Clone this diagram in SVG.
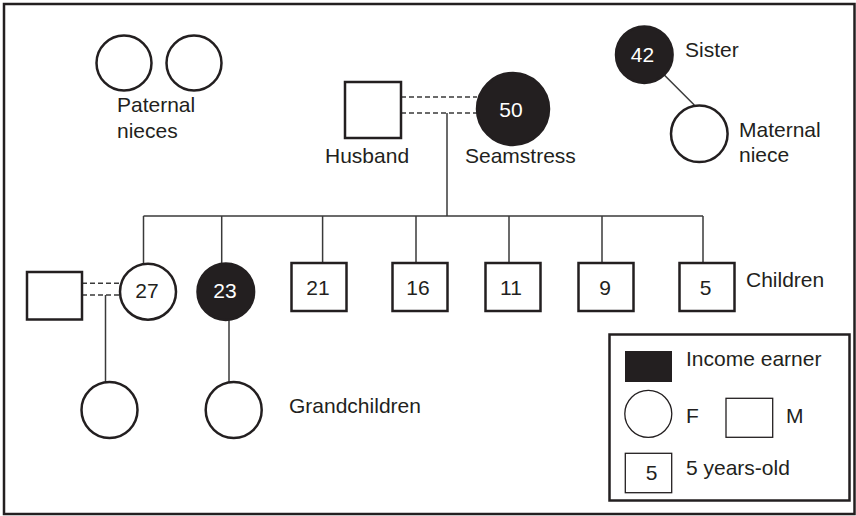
<svg xmlns="http://www.w3.org/2000/svg" width="856" height="516" viewBox="0 0 856 516">
  <style>
    text { font-family: "Liberation Sans", Arial, Helvetica, sans-serif; font-size: 21px; fill: #231f20; }
    .num { text-anchor: middle; }
    .inv { fill: #ffffff; }
    .node { fill: #ffffff; stroke: #231f20; stroke-width: 2.5; }
    .earner { fill: #231f20; stroke: #231f20; stroke-width: 2.5; }
    .thin { fill: #ffffff; stroke: #231f20; stroke-width: 1.3; }
    .link { fill: none; stroke: #3a3a3a; stroke-width: 1.5; }
    .union { fill: none; stroke: #3a3a3a; stroke-width: 1.4; stroke-dasharray: 5 3; }
    .frame { fill: none; stroke: #231f20; stroke-width: 2.5; }
  </style>

  <!-- outer frame -->
  <rect class="frame" x="4" y="4" width="850.5" height="510"/>

  <!-- connectors -->
  <g id="connectors">
    <!-- couple: husband and seamstress -->
    <line class="union" x1="401" y1="97" x2="477" y2="97"/>
    <line class="union" x1="401" y1="113" x2="477" y2="113"/>
    <line class="link" x1="447" y1="113" x2="447" y2="216"/>
    <!-- sibling bar -->
    <line class="link" x1="143.5" y1="216" x2="703" y2="216"/>
    <line class="link" x1="143.5" y1="216" x2="143.5" y2="264"/>
    <line class="link" x1="221.7" y1="216" x2="221.7" y2="263.5"/>
    <line class="link" x1="322.6" y1="216" x2="322.6" y2="263"/>
    <line class="link" x1="416" y1="216" x2="416" y2="263"/>
    <line class="link" x1="509" y1="216" x2="509" y2="263"/>
    <line class="link" x1="602" y1="216" x2="602" y2="263"/>
    <line class="link" x1="703" y1="216" x2="703" y2="263"/>
    <!-- couple: daughter 27 and partner -->
    <line class="union" x1="82" y1="283.3" x2="120" y2="283.3"/>
    <line class="union" x1="82" y1="295" x2="120" y2="295"/>
    <line class="link" x1="105.5" y1="295" x2="105.5" y2="382"/>
    <!-- 23 to her child -->
    <line class="link" x1="229" y1="320" x2="229" y2="382"/>
    <!-- sister to maternal niece -->
    <line class="link" x1="664.3" y1="75" x2="694.3" y2="105"/>
  </g>

  <!-- paternal nieces -->
  <g id="paternal-nieces">
    <circle class="node" cx="124" cy="63" r="27.5"/>
    <circle class="node" cx="194" cy="63" r="27.5"/>
    <text x="117" y="111.5">Paternal</text>
    <text x="117" y="138">nieces</text>
  </g>

  <!-- husband -->
  <g id="husband">
    <rect class="node" x="345" y="82" width="56" height="56"/>
    <text x="325" y="163">Husband</text>
  </g>

  <!-- seamstress -->
  <g id="seamstress">
    <circle class="earner" cx="513" cy="109" r="36"/>
    <text class="num inv" x="511" y="116.5">50</text>
    <text x="465" y="163">Seamstress</text>
  </g>

  <!-- sister -->
  <g id="sister">
    <circle class="earner" cx="644.3" cy="54.7" r="28.3"/>
    <text class="num inv" x="642.5" y="62">42</text>
    <text x="685" y="57">Sister</text>
  </g>

  <!-- maternal niece -->
  <g id="maternal-niece">
    <circle class="node" cx="699.3" cy="133.8" r="28.3"/>
    <text x="739" y="137">Maternal</text>
    <text x="739" y="162">niece</text>
  </g>

  <!-- partner of daughter 27 -->
  <g id="son-in-law">
    <rect class="node" x="27" y="272" width="55" height="47.5"/>
  </g>

  <!-- children -->
  <g id="child-27">
    <circle class="node" cx="148" cy="291.7" r="28"/>
    <text class="num" x="147" y="297.5">27</text>
  </g>
  <g id="child-23">
    <circle class="earner" cx="225.8" cy="291.7" r="28.3"/>
    <text class="num inv" x="225" y="297.5">23</text>
  </g>
  <g id="child-21">
    <rect class="node" x="291.5" y="263" width="55" height="48"/>
    <text class="num" x="318" y="294.5">21</text>
  </g>
  <g id="child-16">
    <rect class="node" x="392.5" y="263" width="55" height="48"/>
    <text class="num" x="418" y="294.5">16</text>
  </g>
  <g id="child-11">
    <rect class="node" x="485.5" y="263" width="55" height="48"/>
    <text class="num" x="511" y="294.5">11</text>
  </g>
  <g id="child-9">
    <rect class="node" x="578.5" y="263" width="55" height="48"/>
    <text class="num" x="605" y="294.5">9</text>
  </g>
  <g id="child-5">
    <rect class="node" x="679.5" y="263" width="55" height="48"/>
    <text class="num" x="705.5" y="294.5">5</text>
  </g>
  <g id="children-label">
    <text x="746" y="287">Children</text>
  </g>

  <!-- grandchildren -->
  <g id="grandchild-1">
    <circle class="node" cx="109.5" cy="410" r="28"/>
  </g>
  <g id="grandchild-2">
    <circle class="node" cx="233.7" cy="410" r="28"/>
  </g>
  <g id="grandchildren-label">
    <text x="289" y="413">Grandchildren</text>
  </g>

  <!-- legend -->
  <g id="legend">
    <rect class="frame" x="609.5" y="334.5" width="240" height="166"/>
    <rect fill="#231f20" x="625" y="351" width="47" height="31"/>
    <text x="686" y="365.5">Income earner</text>
    <circle class="thin" cx="648.3" cy="413.8" r="23.5"/>
    <text x="686" y="423">F</text>
    <rect class="thin" x="726" y="398.3" width="46.7" height="39"/>
    <text x="786" y="423">M</text>
    <rect class="thin" x="625.3" y="453.3" width="46.4" height="39.4"/>
    <text class="num" x="651.5" y="479.5">5</text>
    <text x="686" y="475">5 years-old</text>
  </g>
</svg>
